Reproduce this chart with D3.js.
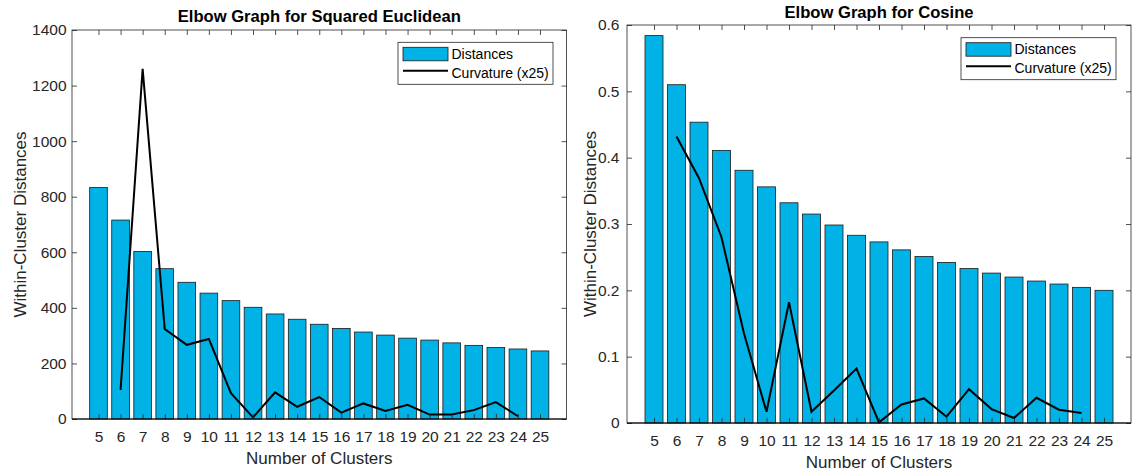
<!DOCTYPE html>
<html>
<head>
<meta charset="utf-8">
<script src="https://cdn.jsdelivr.net/npm/d3@7"></script>
<style>
  html, body { margin: 0; padding: 0; background: #fff; }
  svg { display: block; font-family: "Liberation Sans", Arial, Helvetica, sans-serif; }
</style>
</head>
<body>
<svg id="chart" width="1132" height="475"></svg>
<script>
// Cluster counts on the x axis
const clusters = [5, 6, 7, 8, 9, 10, 11, 12, 13, 14, 15, 16, 17, 18, 19, 20, 21, 22, 23, 24, 25];
// Curvature is only defined for the interior cluster counts
const curvClusters = [6, 7, 8, 9, 10, 11, 12, 13, 14, 15, 16, 17, 18, 19, 20, 21, 22, 23, 24];

// Squared Euclidean: within-cluster distances and scaled curvature
const euclidDist = [833, 716, 603, 541, 492, 453, 426, 402, 378, 359, 341, 326, 313, 302, 291, 284, 274, 265, 257, 252, 245];
const euclidCurv = [105, 1260, 324, 267, 288, 93, 6, 96, 44, 79, 23, 56, 29, 51, 16, 16, 32, 61, 10];

// Cosine: within-cluster distances and scaled curvature
const cosineDist = [0.584, 0.510, 0.4535, 0.411, 0.381, 0.356, 0.332, 0.315, 0.2985, 0.283, 0.273, 0.261, 0.251, 0.242, 0.233, 0.226, 0.220, 0.214, 0.2095, 0.2045, 0.200];
const cosineCurv = [0.432, 0.369, 0.280, 0.135, 0.017, 0.182, 0.017, 0.049, 0.082, 0.001, 0.028, 0.037, 0.0095, 0.051, 0.021, 0.0075, 0.038, 0.020, 0.015];

// Y tick values for each panel
const euclidTicks = [0, 200, 400, 600, 800, 1000, 1200, 1400];
const cosineTicks = [0, 0.1, 0.2, 0.3, 0.4, 0.5, 0.6];

const legendLabels = ["Distances", "Curvature (x25)"];

const BAR_FILL = "#00b2e6";
const AXIS_COLOR = "#262626";
const TICK_FONT = 15.5;
const LABEL_FONT = 17;

const svg = d3.select("#chart");

function drawPanel(cfg) {
  const g = svg.append("g");
  const { x0, x1, y0, y1 } = cfg.box;

  const x = d3.scaleLinear().domain([3.8, 26.2]).range([x0, x1]);
  const y = d3.scaleLinear().domain(cfg.yDomain).range([y1, y0]);
  const step = x(6) - x(5);
  const barW = step * 0.8;

  // Bars
  g.append("g").selectAll("rect")
    .data(clusters)
    .join("rect")
    .attr("x", (d) => x(d) - barW / 2)
    .attr("width", barW)
    .attr("y", (d, i) => y(cfg.dist[i]))
    .attr("height", (d, i) => y(0) - y(cfg.dist[i]))
    .attr("fill", BAR_FILL)
    .attr("stroke", "#1a1a1a")
    .attr("stroke-width", 0.8);

  // Curvature line
  const line = d3.line()
    .x((d) => x(d[0]))
    .y((d) => y(d[1]));
  g.append("path")
    .datum(curvClusters.map((c, i) => [c, cfg.curv[i]]))
    .attr("fill", "none")
    .attr("stroke", "#000")
    .attr("stroke-width", 2)
    .attr("stroke-linejoin", "miter")
    .attr("d", line);

  // Axes with inward ticks on all four sides
  const bottom = d3.axisBottom(x).tickValues(clusters).tickSize(-5)
    .tickPadding(22.7 - 0.71 * TICK_FONT).tickFormat(d3.format("d"));
  const top = d3.axisTop(x).tickValues(clusters).tickSize(-5).tickFormat("");
  const left = d3.axisLeft(y).tickValues(cfg.yTicks).tickSize(-5).tickPadding(cfg.yPad).tickFormat(cfg.yFormat);
  const right = d3.axisRight(y).tickValues(cfg.yTicks).tickSize(-5).tickFormat("");

  const styleAxis = (sel) => {
    sel.select(".domain").remove();
    sel.selectAll(".tick line").attr("stroke", AXIS_COLOR).attr("stroke-width", 0.8);
    sel.selectAll(".tick text").attr("fill", AXIS_COLOR).style("font-size", TICK_FONT + "px")
      .style("font-family", '"Liberation Sans", Arial, Helvetica, sans-serif');
  };
  g.append("g").attr("transform", `translate(0,${y1})`).call(bottom).call(styleAxis);
  g.append("g").attr("transform", `translate(0,${y0})`).call(top).call(styleAxis);
  g.append("g").attr("transform", `translate(${x0},0)`).call(left).call(styleAxis);
  g.append("g").attr("transform", `translate(${x1},0)`).call(right).call(styleAxis);

  // Axes box
  g.append("rect")
    .attr("x", x0).attr("y", y0)
    .attr("width", x1 - x0).attr("height", y1 - y0)
    .attr("fill", "none")
    .attr("stroke", AXIS_COLOR)
    .attr("stroke-width", 0.8);

  // Baseline at zero
  g.append("line")
    .attr("x1", x0).attr("x2", x1)
    .attr("y1", y(0)).attr("y2", y(0))
    .attr("stroke", "#000").attr("stroke-width", 1.2);

  // Title
  g.append("text")
    .attr("x", (x0 + x1) / 2).attr("y", cfg.titleY)
    .attr("text-anchor", "middle")
    .style("font-size", "16.6px").style("font-weight", "bold")
    .attr("fill", "#000")
    .text(cfg.title);

  // Axis labels
  g.append("text")
    .attr("x", (x0 + x1) / 2).attr("y", y1 + 44.5)
    .attr("text-anchor", "middle")
    .style("font-size", LABEL_FONT + "px")
    .attr("fill", AXIS_COLOR)
    .text("Number of Clusters");

  g.append("text")
    .attr("transform", `translate(${cfg.ylabelX},${(y0 + y1) / 2}) rotate(-90)`)
    .attr("text-anchor", "middle")
    .style("font-size", LABEL_FONT + "px")
    .attr("fill", AXIS_COLOR)
    .text("Within-Cluster Distances");

  // Legend
  const lw = 155, lh = 42;
  const lx = x1 - cfg.legendOff[0] - lw;
  const ly = y0 + cfg.legendOff[1];
  const lg = g.append("g").attr("transform", `translate(${lx},${ly})`);
  lg.append("rect").attr("width", lw).attr("height", lh)
    .attr("fill", "#fff").attr("stroke", AXIS_COLOR).attr("stroke-width", 0.8);
  lg.append("rect").attr("x", 5).attr("y", 5).attr("width", 45).attr("height", 13.5)
    .attr("fill", BAR_FILL).attr("stroke", "#1a1a1a").attr("stroke-width", 0.8);
  lg.append("line").attr("x1", 5).attr("x2", 50).attr("y1", 28.5).attr("y2", 28.5)
    .attr("stroke", "#000").attr("stroke-width", 2);
  lg.selectAll("text.lab")
    .data(legendLabels)
    .join("text")
    .attr("class", "lab")
    .attr("x", 53.5)
    .attr("y", (d, i) => 16.5 + i * 19)
    .style("font-size", "14px")
    .attr("fill", "#000")
    .text((d) => d);
}

drawPanel({
  box: { x0: 72, x1: 566.5, y0: 30, y1: 419 },
  yDomain: [0, 1400],
  yTicks: euclidTicks,
  yFormat: d3.format("d"),
  yPad: 5.5,
  dist: euclidDist,
  curv: euclidCurv,
  title: "Elbow Graph for Squared Euclidean",
  titleY: 21.7,
  ylabelX: 25.5,
  legendOff: [13.5, 12.3]
});

drawPanel({
  box: { x0: 627, x1: 1131, y0: 25, y1: 423 },
  yDomain: [0, 0.6],
  yTicks: cosineTicks,
  yFormat: (d) => (d === 0 ? "0" : d3.format(".1f")(d)),
  yPad: 7.5,
  dist: cosineDist,
  curv: cosineCurv,
  title: "Elbow Graph for Cosine",
  titleY: 18.3,
  ylabelX: 596,
  legendOff: [15, 12.7]
});
</script>
</body>
</html>
